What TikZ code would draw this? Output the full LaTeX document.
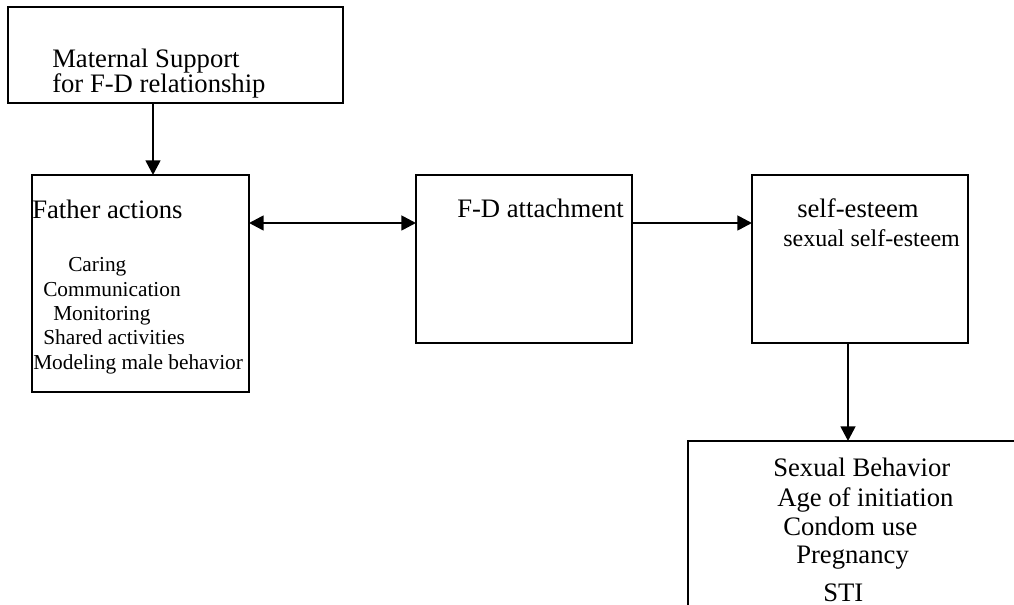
\documentclass[tikz,border=0pt]{standalone}
\usepackage{fontspec}
\setmainfont{Liberation Serif}
\usetikzlibrary{arrows.meta}
\tikzset{
  box/.style={draw, line width=1.4pt, rectangle, inner sep=0pt, outer sep=0pt},
  txt/.style={anchor=base west, inner sep=0pt, font=\fontsize{20}{24}\selectfont},
  small/.style={txt, font=\fontsize{16}{19}\selectfont},
  link/.style={line width=2pt}
}

\begin{document}
\begin{tikzpicture}[x=0.75pt,y=-0.75pt,>={Triangle[length=11pt,width=11pt]}]
\useasboundingbox (0,0) rectangle (1014,605);
\clip (0,0) rectangle (1014,605);
% boxes
\node[box, minimum width=251.25pt, minimum height=72pt] (maternal) at (175.5,55) {};
\node[box, minimum width=162.75pt, minimum height=162.75pt] (father) at (140.5,283.5) {};
\node[box, minimum width=162pt, minimum height=126pt] (attach) at (524,259) {};
\node[box, minimum width=162pt, minimum height=126pt] (esteem) at (860,259) {};
\node[box, minimum width=264pt, minimum height=149.25pt] (behavior) at (864,540.5) {};
% texts
\node[txt] (mat1) at (52,68) {Maternal Support};
\node[txt] (mat2) at (52,93) {for F-D relationship};
\node[txt] (fa0) at (32,219) {Father actions};
\node[small] (fa1) at (68,272) {Caring};
\node[small] (fa2) at (43,297) {Communication};
\node[small] (fa3) at (53,321) {Monitoring};
\node[small] (fa4) at (43,345) {Shared activities};
\node[small] (fa5) at (33,370) {Modeling male behavior};
\node[txt] (att) at (457,218) {F-D attachment};
\node[txt] (se1) at (797,218) {self-esteem};
\node[txt, font=\fontsize{18}{21}\selectfont] (se2) at (783,247) {sexual self-esteem};
\node[txt] (sb1) at (773,477) {Sexual Behavior};
\node[txt] (sb2) at (777,507) {Age of initiation};
\node[txt] (sb3) at (783,536) {Condom use};
\node[txt] (sb4) at (796,564) {Pregnancy};
\node[txt] (sb5) at (823,601) {STI};
% arrows
\coordinate (drop) at (153,0);
\coordinate (row) at (0,223);
\coordinate (down) at (848,0);
\draw[link,->] (maternal.south -| drop) -- (father.north -| drop);
\draw[link,<->] (father.east |- row) -- (attach.west |- row);
\draw[link,->] (attach.east |- row) -- (esteem.west |- row);
\draw[link,->] (esteem.south -| down) -- (behavior.north -| down);
\end{tikzpicture}
\end{document}
